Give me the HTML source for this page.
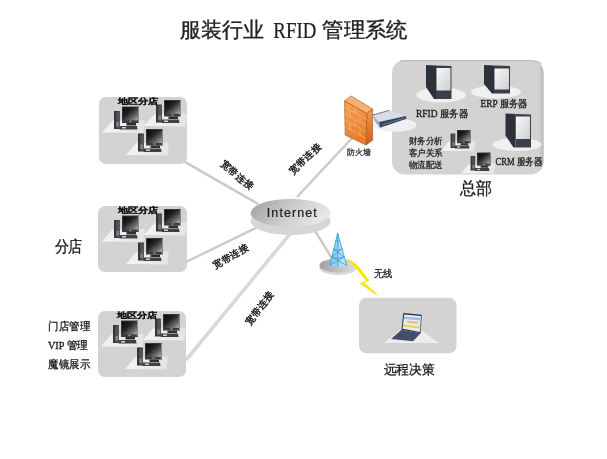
<!DOCTYPE html>
<html><head><meta charset="utf-8">
<style>
html,body{margin:0;padding:0;background:#fff;width:607px;height:459px;overflow:hidden}
svg{display:block;filter:blur(0.35px)}
text{font-family:"Liberation Serif",serif;fill:#222}
.s{font-family:"Liberation Sans",sans-serif}
</style></head><body>
<svg width="607" height="459" viewBox="0 0 607 459">
<defs>
  <linearGradient id="scr" x1="0" y1="0" x2="1" y2="1">
    <stop offset="0" stop-color="#080808"/><stop offset="0.4" stop-color="#222"/><stop offset="0.8" stop-color="#777"/><stop offset="1" stop-color="#bdbdbd"/>
  </linearGradient>
  <linearGradient id="plat" x1="0" y1="0" x2="1" y2="0">
    <stop offset="0" stop-color="#f4f4f4"/><stop offset="1" stop-color="#e4e4e4"/>
  </linearGradient>
  <linearGradient id="panel" x1="0" y1="0" x2="1" y2="1">
    <stop offset="0" stop-color="#fafafa"/><stop offset="1" stop-color="#cdcdcd"/>
  </linearGradient>
  <linearGradient id="inet" x1="0" y1="0" x2="1" y2="0.3">
    <stop offset="0" stop-color="#9e9e9e"/><stop offset="0.55" stop-color="#cbcbcb"/><stop offset="1" stop-color="#e6e6e6"/>
  </linearGradient>
  <linearGradient id="towbase" x1="0" y1="0" x2="1" y2="0">
    <stop offset="0" stop-color="#a0a0a0"/><stop offset="1" stop-color="#e0e0e0"/>
  </linearGradient>
  <linearGradient id="tow" x1="0" y1="0" x2="1" y2="0">
    <stop offset="0" stop-color="#7cc4e8"/><stop offset="1" stop-color="#cdeaf8"/>
  </linearGradient>
  <linearGradient id="fwf" x1="0" y1="0" x2="0.3" y2="1">
    <stop offset="0" stop-color="#f5a455"/><stop offset="1" stop-color="#ea7c2c"/>
  </linearGradient>
  <linearGradient id="fwr" x1="0" y1="0" x2="0" y2="1">
    <stop offset="0" stop-color="#f09a50"/><stop offset="1" stop-color="#c85e1a"/>
  </linearGradient>
  <linearGradient id="hqedge" x1="0" y1="0" x2="1" y2="0">
    <stop offset="0" stop-color="#d3d3d3"/><stop offset="1" stop-color="#b4b4b4"/>
  </linearGradient>
  <!-- desktop computer, origin = monitor top-left -->
  <g id="pc">
    <polygon points="-20,26 -9.5,14 23,13.5 21.5,26.5" fill="url(#plat)"/>
    <rect x="-8" y="4.5" width="5.8" height="18" fill="#34363a"/>
    <rect x="-5.8" y="5.5" width="2.8" height="16" fill="#50535a"/>
    <rect x="-5.8" y="15.5" width="2.8" height="4.5" fill="#7d8086"/>
    <rect x="0" y="0" width="17" height="16.5" fill="#3a3b3e"/>
    <rect x="15.8" y="0.5" width="1.2" height="15.5" fill="#8a8a8a"/>
    <rect x="0.9" y="0.9" width="15" height="13" fill="url(#scr)"/>
    <rect x="7.5" y="14.4" width="2" height="1.2" fill="#aaa"/>
    <rect x="4.5" y="16.5" width="9.5" height="2.5" fill="#2e2f31"/>
    <polygon points="-2.5,19.5 15,19.5 15.5,23 -2.5,23" fill="#3e4044"/>
    <rect x="0" y="20.5" width="4" height="1.5" fill="#cfcfcf"/>
  </g>
  <!-- server, origin = top-left -->
  <g id="srv">
    <polygon points="0,0 10,0.5 10,34 8,34 0,22" fill="#2d323a"/>
    <polygon points="10,0.5 25.5,1 25.5,34 10,34" fill="#3b4048"/>
    <rect x="10.5" y="3" width="14" height="22.5" fill="url(#panel)"/>
  </g>
</defs>

<!-- title -->
<text x="180.3" y="37.4" font-size="21" textLength="84" lengthAdjust="spacingAndGlyphs" stroke="#222" stroke-width="0.35">服装行业</text>
<text x="273.3" y="37.6" font-size="22.5" textLength="43" lengthAdjust="spacingAndGlyphs" stroke="#222" stroke-width="0.2">RFID</text>
<text x="322.3" y="37.4" font-size="21" textLength="85.5" lengthAdjust="spacingAndGlyphs" stroke="#222" stroke-width="0.35">管理系统</text>

<!-- connection lines -->
<g stroke="#c9c9c9" stroke-width="2.4" fill="none">
  <line x1="181" y1="159.6" x2="258" y2="204"/>
  <line x1="186" y1="262" x2="262" y2="225"/>
  <line x1="186" y1="360" x2="290" y2="234" stroke-width="3.6" stroke="#d8d8d8"/>
  <line x1="297" y1="197" x2="354" y2="136"/>
  <line x1="315" y1="231" x2="333" y2="260"/>
</g>

<!-- branch boxes -->
<rect x="99" y="97" width="88" height="67" rx="7" fill="#d3d3d3"/>
<rect x="98" y="206" width="89" height="66" rx="7" fill="#d3d3d3"/>
<rect x="98" y="311" width="88" height="66" rx="7" fill="#d3d3d3"/>

<g id="br1">
  <use href="#pc" x="122" y="106.5"/>
  <use href="#pc" x="164" y="100"/>
  <use href="#pc" x="146" y="129"/>
  <text class="s" font-size="10" font-weight="bold" fill="#111" stroke="#111" stroke-width="0.25" textLength="39" lengthAdjust="spacingAndGlyphs" transform="translate(118.3 104.4) scale(1 0.75)">地区分店</text>
</g>
<use href="#br1" y="109"/>
<use href="#br1" x="-1" y="214"/>

<!-- HQ box -->
<rect x="392" y="60" width="151.5" height="114.5" rx="13" fill="#d3d3d3"/>
<clipPath id="hqclip"><rect x="392" y="60" width="151.5" height="114.5" rx="13"/></clipPath>
<rect x="539" y="60" width="5" height="115" fill="url(#hqedge)" clip-path="url(#hqclip)"/>
<path d="M400,61.2 Q403,60.6 406,60.6 L530,60.6 Q538,60.6 541,64" fill="none" stroke="#bcbcbc" stroke-width="1.3"/>
<ellipse cx="441" cy="95" rx="25" ry="7.5" fill="#f0f0f0"/>
<ellipse cx="496" cy="92" rx="25" ry="6.5" fill="#f0f0f0"/>
<ellipse cx="517" cy="144.5" rx="24.5" ry="6.5" fill="#f0f0f0"/>
<use href="#srv" x="426" y="65"/>
<g transform="translate(484 65)">
  <polygon points="0,0 10,0.5 10,28.5 8,28.5 0,19" fill="#2d323a"/>
  <polygon points="10,0.5 26,1 26,28.5 10,28.5" fill="#3b4048"/>
  <rect x="10.5" y="3.5" width="14.5" height="21" fill="url(#panel)"/>
</g>
<use href="#srv" x="505.5" y="113.5"/>
<text x="416" y="117" font-size="10" fill="#1a1a1a" stroke="#1a1a1a" stroke-width="0.3" textLength="52" lengthAdjust="spacingAndGlyphs">RFID 服务器</text>
<text x="480.5" y="107" font-size="10" fill="#1a1a1a" stroke="#1a1a1a" stroke-width="0.3" textLength="47" lengthAdjust="spacingAndGlyphs">ERP 服务器</text>
<text x="495.5" y="165.2" font-size="10" fill="#1a1a1a" stroke="#1a1a1a" stroke-width="0.3" textLength="47" lengthAdjust="spacingAndGlyphs">CRM 服务器</text>
<g transform="translate(457 130) scale(0.8)"><use href="#pc"/></g>
<g transform="translate(477 152.5) scale(0.8)"><use href="#pc"/></g>
<text class="s" x="408.5" y="144" font-size="9" fill="#2a2a2a" stroke="#2a2a2a" stroke-width="0.3" textLength="34" lengthAdjust="spacingAndGlyphs">财务分析</text>
<text class="s" x="408.5" y="156" font-size="9" fill="#2a2a2a" stroke="#2a2a2a" stroke-width="0.3" textLength="34" lengthAdjust="spacingAndGlyphs">客户关系</text>
<text class="s" x="408.5" y="168" font-size="9" fill="#2a2a2a" stroke="#2a2a2a" stroke-width="0.3" textLength="34" lengthAdjust="spacingAndGlyphs">物流配送</text>
<text class="s" x="460.3" y="193.9" font-size="17" fill="#111" stroke="#111" stroke-width="0.3" textLength="32" lengthAdjust="spacingAndGlyphs">总部</text>

<!-- router -->
<ellipse cx="395" cy="125" rx="21.6" ry="6.8" fill="#f0f0f0"/>
<polygon points="373,115 389.4,110.4 405.7,116 379,122" fill="#d9dee6"/>
<line x1="373" y1="115" x2="389.4" y2="110.4" stroke="#555" stroke-width="0.8"/>
<polygon points="373,115 379,122 380,127.7 374,120.4" fill="#a9b0ba"/>
<polygon points="379,122 405.7,116 406.6,118.7 380,127.7" fill="#34455e"/>
<line x1="382" y1="125" x2="404.5" y2="118" stroke="#6f8bb0" stroke-width="0.8"/>

<!-- firewall -->
<polygon points="344.5,101 351,95.9 372.6,109 366.8,113.5" fill="#f7b072" stroke="#9a5418" stroke-width="0.6"/>
<polygon points="366.8,113.5 372.6,109 372.6,140.3 366,145" fill="url(#fwr)" stroke="#9a5418" stroke-width="0.6"/>
<polygon points="344.5,101 366.8,113.5 366,145 345.2,135.1" fill="url(#fwf)" stroke="#9a5418" stroke-width="0.6"/>
<g stroke="#f8b47e" stroke-width="0.7">
  <line x1="344.7" y1="107" x2="366.7" y2="119.5"/>
  <line x1="344.8" y1="113.5" x2="366.6" y2="126"/>
  <line x1="344.9" y1="120" x2="366.4" y2="132"/>
  <line x1="345" y1="126.5" x2="366.2" y2="138.5"/>
  <line x1="355" y1="107" x2="355" y2="112.5"/>
  <line x1="350" y1="110.5" x2="350" y2="116.5"/>
  <line x1="360" y1="116.5" x2="360" y2="122.5"/>
  <line x1="355" y1="120" x2="355" y2="126"/>
  <line x1="350" y1="123.5" x2="350" y2="129.5"/>
  <line x1="360" y1="129.5" x2="360" y2="135.5"/>
</g>
<text class="s" x="346.5" y="155" font-size="8" fill="#2a2a2a" stroke="#2a2a2a" stroke-width="0.25" textLength="24" lengthAdjust="spacingAndGlyphs">防火墙</text>

<!-- Internet -->
<ellipse cx="290.6" cy="221" rx="40" ry="14" fill="#d6d6d6"/>
<ellipse cx="290.6" cy="213" rx="40" ry="14" fill="url(#inet)"/>
<text class="s" x="266.8" y="217.2" font-size="12.5" textLength="50" lengthAdjust="spacing" fill="#1a1a1a" stroke="#1a1a1a" stroke-width="0.2">Internet</text>

<!-- tower -->
<ellipse cx="338" cy="268" rx="18.5" ry="7" fill="#d8d8d8"/>
<ellipse cx="338" cy="265.5" rx="18.5" ry="7" fill="url(#towbase)"/>
<polygon points="337.7,233 329.7,265.4 337.7,267 346.7,265.4" fill="url(#tow)"/>
<g stroke="#3a9ad0" stroke-width="0.8" fill="none">
  <polyline points="329.7,265.4 337.7,233 346.7,265.4"/>
  <line x1="337.7" y1="233" x2="337.7" y2="267"/>
  <polyline points="333.5,249 337.7,250 342,249"/>
  <polyline points="331.5,257 337.7,258.5 344.2,257"/>
  <line x1="333.5" y1="249" x2="344.2" y2="257"/>
  <line x1="342" y1="249" x2="331.5" y2="257"/>
  <line x1="331.5" y1="257" x2="346.7" y2="265.4"/>
  <line x1="344.2" y1="257" x2="329.7" y2="265.4"/>
  <line x1="335.5" y1="241" x2="340" y2="241"/>
</g>
<polygon points="347.5,258.3 358,265.8 369.5,280.6 364.2,282.8 377.8,294.2 375.2,294.2 359.8,283.6 365.8,280.6 355.6,268.2 347.8,259.8" fill="#f9e60c"/>
<text class="s" x="373.5" y="276.7" font-size="10" fill="#111" stroke="#111" stroke-width="0.25" textLength="18.5" lengthAdjust="spacingAndGlyphs">无线</text>

<!-- remote box -->
<rect x="359" y="297.8" width="97.5" height="55.4" rx="7.5" fill="#d3d3d3"/>
<polygon points="384,343 402.7,327.5 421,330 439,343" fill="#ececec"/>
<polygon points="403.3,313 421.7,314.8 420.6,333.3 401.5,329.8" fill="#283042"/>
<polygon points="404.2,314.4 421,316 420,332 402.6,328.8" fill="#e4ecf2"/>
<polygon points="404.2,316.5 420.6,318 420.4,320.5 404,319" fill="#9cc0e4"/>
<polygon points="407,320.5 418,321.5 417.8,324 406.8,323" fill="#e8c090"/>
<polygon points="403.5,324.5 419.7,326.4 419.6,328.4 403.2,326.6" fill="#f0cd4a"/>
<polygon points="401.5,329.8 420.6,333.3 413,341.3 391,339" fill="#444d6a"/>
<text class="s" x="383.5" y="374" font-size="13" fill="#111" stroke="#111" stroke-width="0.3" textLength="51" lengthAdjust="spacingAndGlyphs">远程决策</text>

<!-- left labels -->
<text class="s" font-size="15" fill="#111" stroke="#111" stroke-width="0.3" textLength="27" lengthAdjust="spacingAndGlyphs" transform="translate(54.5 251.6) scale(1 1.05)">分店</text>
<text class="s" x="48" y="330" font-size="10.5" fill="#1a1a1a" stroke="#1a1a1a" stroke-width="0.3" textLength="42" lengthAdjust="spacingAndGlyphs">门店管理</text>
<text x="48" y="349" font-size="10.5" fill="#1a1a1a" stroke="#1a1a1a" stroke-width="0.3" textLength="40" lengthAdjust="spacingAndGlyphs">VIP <tspan class="s">管理</tspan></text>
<text class="s" x="48" y="368" font-size="10.5" fill="#1a1a1a" stroke="#1a1a1a" stroke-width="0.3" textLength="42" lengthAdjust="spacingAndGlyphs">魔镜展示</text>

<!-- broadband labels -->
<text class="s" font-size="9.5" fill="#151515" stroke="#151515" stroke-width="0.4" transform="translate(219.5 165) rotate(39)">宽带连接</text>
<text class="s" font-size="9.5" fill="#151515" stroke="#151515" stroke-width="0.4" transform="translate(293 175) rotate(-44)">宽带连接</text>
<text class="s" font-size="9.5" fill="#151515" stroke="#151515" stroke-width="0.4" transform="translate(215 269) rotate(-29)">宽带连接</text>
<text class="s" font-size="9.5" fill="#151515" stroke="#151515" stroke-width="0.4" transform="translate(249.5 325.5) rotate(-51)">宽带连接</text>
</svg>
</body></html>
